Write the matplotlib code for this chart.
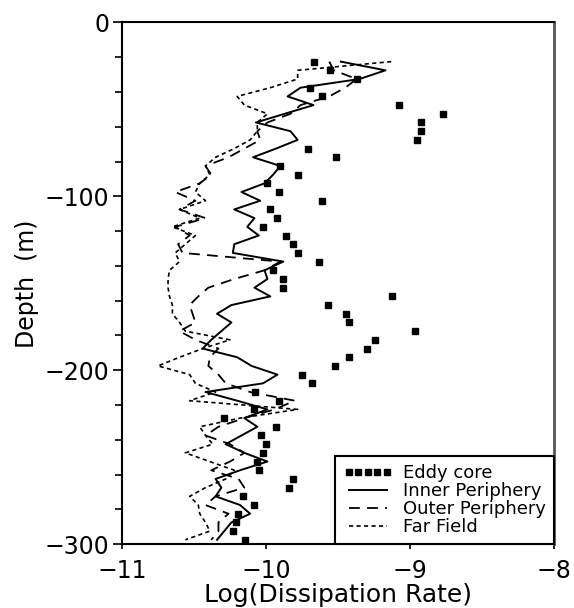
import matplotlib
matplotlib.use("Agg")
import matplotlib.pyplot as plt
from matplotlib.ticker import MultipleLocator

# depth of each profile sample (m)
depth = [-22.5, -27.5, -32.5, -37.5, -42.5, -47.5, -52.5, -57.5, -62.5, -67.5,
         -72.5, -77.5, -82.5, -87.5, -92.5, -97.5, -102.5, -107.5, -112.5, -117.5,
         -122.5, -127.5, -132.5, -137.5, -142.5, -147.5, -152.5, -157.5, -162.5, -167.5,
         -172.5, -177.5, -182.5, -187.5, -192.5, -197.5, -202.5, -207.5, -212.5, -217.5,
         -222.5, -227.5, -232.5, -237.5, -242.5, -247.5, -252.5, -257.5, -262.5, -267.5,
         -272.5, -277.5, -282.5, -287.5, -292.5, -297.5]

eddy_core = [-9.665, -9.556, -9.368, -9.694, -9.611, -9.074, -8.773, -8.922, -8.926, -8.953,
             -9.706, -9.514, -9.905, -9.776, -9.995, -9.912, -9.611, -9.972, -9.924, -10.019,
             -9.863, -9.815, -9.776, -9.634, -9.953, -9.884, -9.884, -9.123, -9.572, -9.447,
             -9.426, -8.965, -9.245, -9.297, -9.424, -9.521, -9.752, -9.683, -10.074, -9.912,
             -10.083, -10.292, -9.933, -10.033, -10.0, -10.023, -10.060, -10.051, -9.815, -9.842,
             -10.160, -10.083, -10.192, -10.210, -10.231, -10.144]

inner = [-9.48, -9.17, -9.35, -9.76, -9.85, -9.67, -9.87, -10.07, -9.83, -9.78,
         -9.93, -10.09, -9.90, -9.95, -10.01, -10.17, -10.04, -10.22, -10.08, -10.13,
         -10.05, -10.22, -10.23, -9.88, -10.01, -9.99, -10.08, -9.97, -10.24, -10.34,
         -10.24, -10.31, -10.38, -10.44, -10.20, -10.10, -9.92, -10.02, -10.42, -10.20,
         -9.99, -10.15, -10.06, -10.17, -10.28, -10.15, -9.99, -10.18, -10.35, -10.31,
         -10.35, -10.18, -10.11, -10.24, -10.29, -10.34]

outer = [-9.56, -9.53, -9.37, -9.45, -9.56, -9.76, -9.83, -9.99, -10.06, -10.04,
         -10.15, -10.26, -10.42, -10.38, -10.46, -10.63, -10.49, -10.60, -10.42, -10.63,
         -10.53, -10.61, -10.58, -9.90, -10.01, -10.22, -10.40, -10.47, -10.53, -10.51,
         -10.49, -10.60, -10.49, -10.33, -10.39, -10.40, -10.33, -10.28, -10.11, -9.80,
         -9.94, -10.15, -10.33, -10.42, -10.25, -10.15, -10.25, -10.38, -10.19, -10.15,
         -10.35, -10.42, -10.26, -10.33, -10.33, -10.38]

far_field = [-9.13, -9.78, -9.78, -9.97, -10.20, -10.15, -9.99, -10.06, -10.06, -10.11,
             -10.22, -10.35, -10.42, -10.39, -10.46, -10.49, -10.42, -10.60, -10.46, -10.65,
             -10.49, -10.56, -10.63, -10.60, -10.67, -10.68, -10.68, -10.67, -10.65, -10.65,
             -10.60, -10.56, -10.25, -10.44, -10.60, -10.75, -10.53, -10.49, -10.35, -10.53,
             -9.78, -10.18, -10.46, -10.42, -10.37, -10.56, -10.39, -10.22, -10.28, -10.42,
             -10.53, -10.47, -10.46, -10.42, -10.39, -10.56]

plt.rcParams['font.family'] = ['DejaVu Sans']

fig = plt.figure(figsize=(5.74, 6.08), dpi=100)
ax = fig.add_axes([0.2125, 0.105, 0.7526, 0.858])

ax.plot(eddy_core, depth, linestyle='none', marker='s', ms=5, color='black',
        label='Eddy core')
ax.plot(inner, depth, '-', color='black', lw=1.4, label='Inner Periphery')
ax.plot(outer, depth, color='black', lw=1.3, dashes=(6, 4),
        label='Outer Periphery')
ax.plot(far_field, depth, color='black', lw=1.2, dashes=(2.5, 2),
        label='Far Field')

ax.set_xlim(-11, -8)
ax.set_ylim(-300, 0)
ax.xaxis.set_major_locator(MultipleLocator(1))
ax.yaxis.set_major_locator(MultipleLocator(100))
ax.yaxis.set_minor_locator(MultipleLocator(20))
ax.tick_params(axis='y', which='major', direction='out', length=6.5, width=1.2,
               labelsize=17, pad=2.5)
ax.tick_params(axis='y', which='minor', direction='out', length=5, width=1.2)
ax.tick_params(axis='x', which='major', direction='out', length=3.6, width=1.2,
               labelsize=17, pad=7)
for side in ['left', 'bottom', 'top']:
    ax.spines[side].set_linewidth(1.5)
ax.spines['right'].set_linewidth(2)
ax.spines['right'].set_color('#555555')

ax.set_xlabel('Log(Dissipation Rate)', fontsize=18, labelpad=0)
ax.set_ylabel('Depth  (m)', fontsize=17, labelpad=4)

leg = ax.legend(loc='lower right', numpoints=5, fontsize=13, frameon=True,
                fancybox=False, framealpha=1, edgecolor='black',
                borderaxespad=0, handlelength=2.7, handletextpad=0.6,
                labelspacing=0.0, borderpad=0.45)
leg.get_frame().set_linewidth(1.5)

fig.savefig('out.png', dpi=100)
